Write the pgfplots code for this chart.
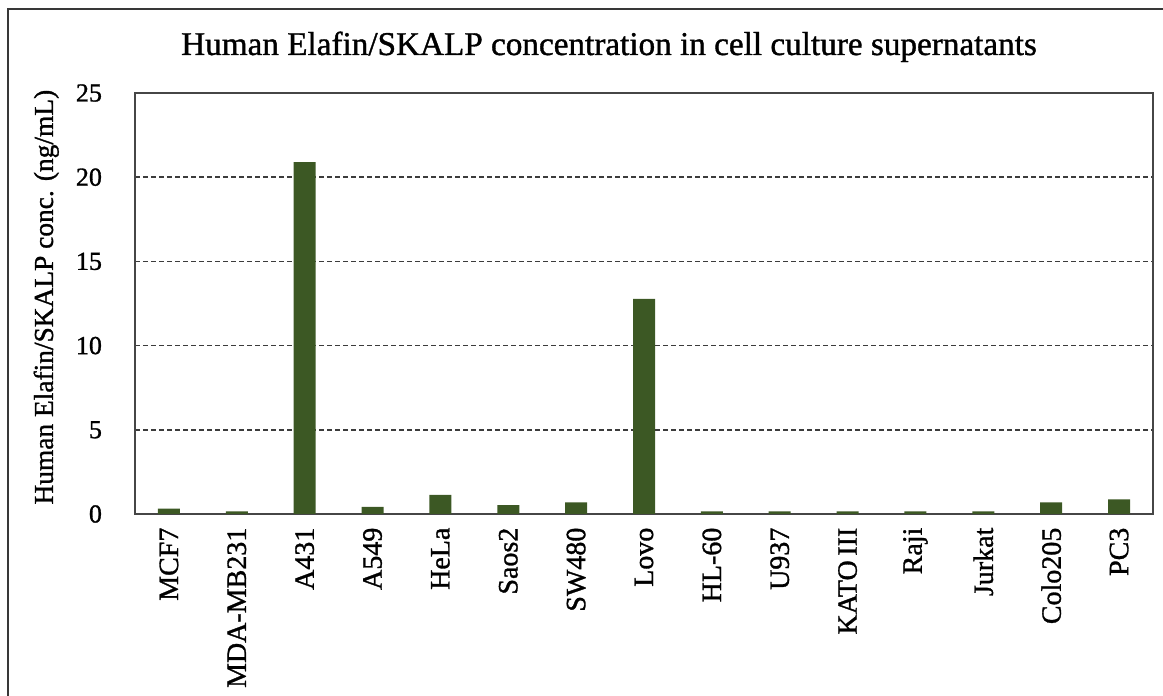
\documentclass[border=0pt]{standalone}
\usepackage{pgfplots}
\pgfplotsset{compat=1.18}
\usepackage{fontspec}
\setmainfont{Liberation Serif}[FakeBold=1.1]
\definecolor{barg}{RGB}{60,88,36}
\definecolor{axg}{RGB}{70,70,70}
\begin{document}
\begin{tikzpicture}
\useasboundingbox (0,0) rectangle (581.5pt,348pt);
\draw[line width=1pt, color=axg!80!black] (4pt,-2pt) -- (4pt,343.5pt) -- (583pt,343.5pt);
\node[anchor=base, font=\fontsize{16.6}{19}\selectfont] at (304.5pt,320.5pt) {Human Elafin/SKALP concentration in cell culture supernatants};
\begin{axis}[
  at={(67.5pt,91pt)}, anchor=south west,
  scale only axis, width=509pt, height=210.5pt,
  xmin=-0.5, xmax=14.5, ymin=0, ymax=25,
  xtick=data,
  xticklabels={MCF7,MDA-MB231,A431,A549,HeLa,Saos2,SW480,Lovo,HL-60,U937,KATO\,III,Raji,Jurkat,Colo205,PC3},
  ytick={0,5,...,25},
  major tick length=0pt,
  axis line style={color=axg, line width=0.8pt},
  ymajorgrids,
  grid style={color=axg!85!black, line width=0.75pt, dash pattern=on 2.5pt off 1.5pt},
  /pgf/number format/assume math mode=true,
  yticklabel style={font=\fontsize{13}{15}\selectfont},
  xticklabel style={font=\fontsize{14}{16}\selectfont, rotate=90, anchor=east},
  xticklabel shift=3.3pt,
  yticklabel shift=13pt,
  ylabel={Human Elafin/SKALP conc. (ng/mL)},
  every axis y label/.style={at={(axis description cs:-0.0806,0.515)}, rotate=90, anchor=base, font=\fontsize{13.7}{16}\selectfont},
]
\addplot[ybar, bar width=11pt, fill=barg, draw=none] coordinates {
(0,0.32) (1,0.15) (2,20.9) (3,0.43) (4,1.13) (5,0.52) (6,0.69) (7,12.77)
(8,0.15) (9,0.15) (10,0.15) (11,0.15) (12,0.15) (13,0.69) (14,0.87)
};
\end{axis}
\end{tikzpicture}
\end{document}
